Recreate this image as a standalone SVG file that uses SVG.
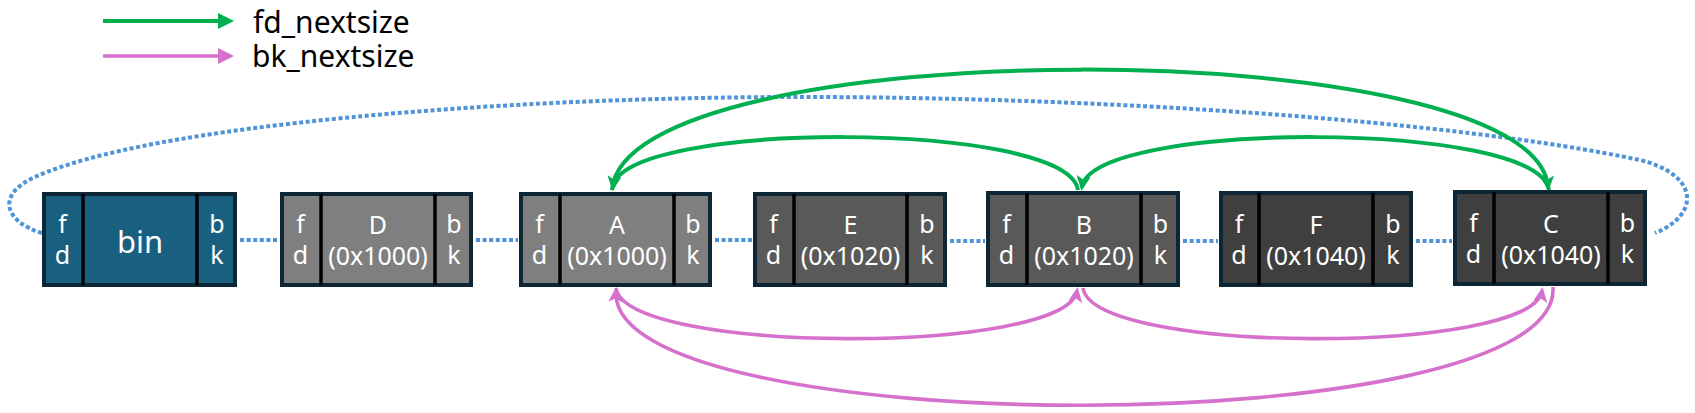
<svg xmlns="http://www.w3.org/2000/svg" width="1695" height="413" viewBox="0 0 1695 413">
<style>
.box{stroke:#0d2636;stroke-width:4}
.div{stroke:#000;stroke-width:3.5}
.t{font-family:"Noto Sans","DejaVu Sans",sans-serif;fill:#fff;text-anchor:middle;font-size:25px}
.big{font-size:31px}
.lg{font-family:"Noto Sans","DejaVu Sans",sans-serif;fill:#000;font-size:30px}
.dot{fill:none;stroke:#4f93d8;stroke-width:4;stroke-dasharray:4 2.6}
.g{fill:none;stroke:#00b050;stroke-width:4}
.p{fill:none;stroke:#d670cd;stroke-width:3.6}
</style>
<defs>
<marker id="lgG" markerUnits="userSpaceOnUse" markerWidth="16" markerHeight="16" refX="0" refY="8" orient="auto"><path d="M0,0 L16,8 L0,16 z" fill="#00b050"/></marker>
<marker id="lgP" markerUnits="userSpaceOnUse" markerWidth="16" markerHeight="16" refX="0" refY="8" orient="auto"><path d="M0,0 L16,8 L0,16 z" fill="#d670cd"/></marker>
<marker id="aG" markerUnits="userSpaceOnUse" markerWidth="16" markerHeight="15" refX="11" refY="7" orient="auto"><path d="M0,0 L15,7 L0,14 L3.5,7 z" fill="#00b050"/></marker>
<marker id="aP" markerUnits="userSpaceOnUse" markerWidth="16" markerHeight="15" refX="11" refY="7" orient="auto"><path d="M0,0 L15,7 L0,14 L3.5,7 z" fill="#d670cd"/></marker>
</defs>
<rect width="1695" height="413" fill="#fff"/>
<g id="legend">
<line x1="103" y1="21" x2="218" y2="21" class="g" marker-end="url(#lgG)"/>
<line x1="103" y1="56" x2="218" y2="56" class="p" marker-end="url(#lgP)"/>
<text x="253" y="33" class="lg">fd_nextsize</text>
<text x="252" y="67" class="lg">bk_nextsize</text>
</g>
<g id="connectors">
<path class="dot" d="M42,233 C5,222 -5,195 35,177 C150,125 500,97 800,97 C1100,97 1450,120 1640,160 C1700,175 1700,215 1655,233"/>
<line class="dot" x1="240" y1="240" x2="279" y2="240"/>
<line class="dot" x1="476" y1="240" x2="518" y2="240"/>
<line class="dot" x1="715" y1="240" x2="752" y2="240"/>
<line class="dot" x1="950" y1="241" x2="985" y2="241"/>
<line class="dot" x1="1183" y1="241" x2="1218" y2="241"/>
<line class="dot" x1="1416" y1="241" x2="1452" y2="241"/>
<path class="g" d="M612,190 C625,30 1535,30 1548,187" marker-end="url(#aG)"/>
<path class="g" d="M1078,190 C1068,120 622,120 613,187" marker-end="url(#aG)"/>
<path class="g" d="M1549,190 C1539,120 1092,120 1082,187" marker-end="url(#aG)"/>
<path class="p" d="M616,288 C626,355 1067,355 1077,291" marker-end="url(#aP)"/>
<path class="p" d="M1083,288 C1093,355 1532,355 1542,291" marker-end="url(#aP)"/>
<path class="p" d="M1553,287 C1563,444 606,444 616,291" marker-end="url(#aP)"/>
</g>
<g id="bin">
<rect class="box" x="44" y="194" width="191" height="91" fill="#185f80"/>
<line class="div" x1="83" y1="194" x2="83" y2="285"/><line class="div" x1="197" y1="194" x2="197" y2="285"/>
<text class="t" x="62.5" y="233">f</text><text class="t" x="62.5" y="264">d</text>
<text class="t big" x="140" y="253">bin</text>
<text class="t" x="217" y="233">b</text><text class="t" x="217" y="264">k</text>
</g>
<g id="D">
<rect class="box" x="282" y="194" width="189" height="91" fill="#7f7f7f"/>
<line class="div" x1="321" y1="194" x2="321" y2="285"/><line class="div" x1="435" y1="194" x2="435" y2="285"/>
<text class="t" x="300.5" y="233">f</text><text class="t" x="300.5" y="264">d</text>
<text class="t" x="378" y="234">D</text><text class="t" x="378" y="265">(0x1000)</text>
<text class="t" x="454" y="233">b</text><text class="t" x="454" y="264">k</text>
</g>
<g id="A">
<rect class="box" x="521" y="194" width="189" height="91" fill="#7f7f7f"/>
<line class="div" x1="560" y1="194" x2="560" y2="285"/><line class="div" x1="674" y1="194" x2="674" y2="285"/>
<text class="t" x="539.5" y="233">f</text><text class="t" x="539.5" y="264">d</text>
<text class="t" x="617" y="234">A</text><text class="t" x="617" y="265">(0x1000)</text>
<text class="t" x="693" y="233">b</text><text class="t" x="693" y="264">k</text>
</g>
<g id="E">
<rect class="box" x="755" y="194" width="190" height="91" fill="#595959"/>
<line class="div" x1="794" y1="194" x2="794" y2="285"/><line class="div" x1="907" y1="194" x2="907" y2="285"/>
<text class="t" x="773.5" y="233">f</text><text class="t" x="773.5" y="264">d</text>
<text class="t" x="850.5" y="234">E</text><text class="t" x="850.5" y="265">(0x1020)</text>
<text class="t" x="927" y="233">b</text><text class="t" x="927" y="264">k</text>
</g>
<g id="B">
<rect class="box" x="988" y="193" width="190" height="92" fill="#595959"/>
<line class="div" x1="1027" y1="193" x2="1027" y2="285"/><line class="div" x1="1141" y1="193" x2="1141" y2="285"/>
<text class="t" x="1006.5" y="233">f</text><text class="t" x="1006.5" y="264">d</text>
<text class="t" x="1084" y="234">B</text><text class="t" x="1084" y="265">(0x1020)</text>
<text class="t" x="1160.5" y="233">b</text><text class="t" x="1160.5" y="264">k</text>
</g>
<g id="F">
<rect class="box" x="1221" y="193" width="190" height="92" fill="#3f3f3f"/>
<line class="div" x1="1259" y1="193" x2="1259" y2="285"/><line class="div" x1="1373" y1="193" x2="1373" y2="285"/>
<text class="t" x="1239" y="233">f</text><text class="t" x="1239" y="264">d</text>
<text class="t" x="1316" y="234">F</text><text class="t" x="1316" y="265">(0x1040)</text>
<text class="t" x="1393" y="233">b</text><text class="t" x="1393" y="264">k</text>
</g>
<g id="C">
<rect class="box" x="1455" y="192" width="190" height="92" fill="#3f3f3f"/>
<line class="div" x1="1494" y1="192" x2="1494" y2="284"/><line class="div" x1="1608" y1="192" x2="1608" y2="284"/>
<text class="t" x="1473.5" y="232">f</text><text class="t" x="1473.5" y="263">d</text>
<text class="t" x="1551" y="233">C</text><text class="t" x="1551" y="264">(0x1040)</text>
<text class="t" x="1627.5" y="232">b</text><text class="t" x="1627.5" y="263">k</text>
</g>
</svg>
